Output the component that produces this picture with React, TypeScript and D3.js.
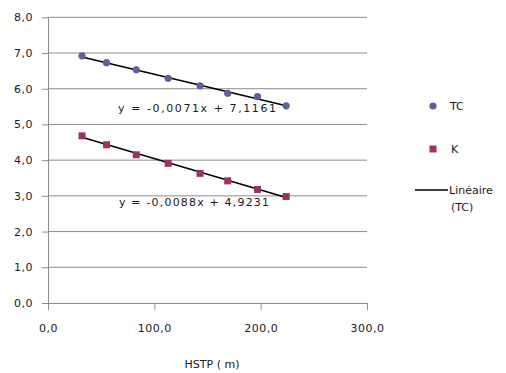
import { useEffect, useRef } from 'react';
import * as d3 from 'd3';

// HSTP (m) values
const hstp = [32, 55, 83, 113, 143, 169, 197, 224];
const tcValues = [6.92, 6.73, 6.53, 6.29, 6.08, 5.87, 5.78, 5.52];
const kValues = [4.68, 4.43, 4.15, 3.91, 3.63, 3.42, 3.18, 2.98];

const xTicks = [0, 100, 200, 300];
const yTicks = [0, 1, 2, 3, 4, 5, 6, 7, 8];

// trend lines (as printed on the chart)
const tcTrend = { slope: -0.0071, intercept: 7.1161, label: 'y = -0,0071x + 7,1161' };
const kTrend = { slope: -0.0088, intercept: 4.9231, label: 'y = -0,0088x + 4,9231' };

const legendLabels = ['TC', 'K', 'Linéaire', '(TC)'];

const TC_COLOR = '#5f5f9c';
const K_COLOR = '#993366';
const FONT = '"DejaVu Sans", Verdana, sans-serif';

const fmt = (v: number) => v.toFixed(1).replace('.', ',');

const App = () => {
  const svgRef = useRef<SVGSVGElement>(null);

  useEffect(() => {
    const width = 506;
    const height = 373;
    const svg = d3.select(svgRef.current);
    svg.selectAll('*').remove();

    svg.append('rect').attr('width', width).attr('height', height).attr('fill', '#fff');

    // ==========================================
    // SCALES
    // ==========================================
    const x = d3.scaleLinear().domain([0, 300]).range([48, 367]);
    const y = d3.scaleLinear().domain([0, 8]).range([303, 17.3]);

    // gridlines
    svg.append('g')
      .selectAll('line')
      .data(yTicks.filter((d) => d > 0))
      .enter()
      .append('line')
      .attr('x1', x(0))
      .attr('x2', x(300))
      .attr('y1', (d) => y(d))
      .attr('y2', (d) => y(d))
      .attr('stroke', '#8c8c8c')
      .attr('stroke-width', 1);

    // ==========================================
    // AXES
    // ==========================================
    const xAxis = svg.append('g')
      .attr('transform', `translate(0,${y(0)})`)
      .call(d3.axisBottom(x).tickValues(xTicks).tickFormat((d) => fmt(+d)).tickSizeInner(7).tickSizeOuter(0).tickPadding(14));
    const yAxis = svg.append('g')
      .attr('transform', `translate(${x(0)},0)`)
      .call(d3.axisLeft(y).tickValues(yTicks).tickFormat((d) => fmt(+d)).tickSizeInner(6).tickSizeOuter(0).tickPadding(9));

    [xAxis, yAxis].forEach((ax) => {
      ax.select('.domain').attr('stroke', '#8c8c8c');
      ax.selectAll('.tick line').attr('stroke', '#8c8c8c');
      ax.selectAll('.tick text')
        .attr('fill', '#1a1a1a')
        .style('font-family', FONT)
        .style('font-size', '11px')
        .style('letter-spacing', '0.5px');
    });

    svg.append('text')
      .attr('x', 212)
      .attr('y', 368)
      .attr('text-anchor', 'middle')
      .style('font-family', FONT)
      .style('font-size', '11px')
      .attr('fill', '#1a1a1a')
      .text('HSTP ( m)');

    // ==========================================
    // TREND LINES
    // ==========================================
    const x0 = d3.min(hstp) as number;
    const x1 = d3.max(hstp) as number;
    [tcTrend, kTrend].forEach((t) => {
      svg.append('line')
        .attr('x1', x(x0))
        .attr('y1', y(t.slope * x0 + t.intercept))
        .attr('x2', x(x1))
        .attr('y2', y(t.slope * x1 + t.intercept))
        .attr('stroke', '#000')
        .attr('stroke-width', 1.6);
    });

    // ==========================================
    // POINTS
    // ==========================================
    svg.append('g')
      .selectAll('circle')
      .data(hstp)
      .enter()
      .append('circle')
      .attr('cx', (d) => x(d))
      .attr('cy', (_, i) => y(tcValues[i]))
      .attr('r', 3.6)
      .attr('fill', TC_COLOR);

    svg.append('g')
      .selectAll('rect')
      .data(hstp)
      .enter()
      .append('rect')
      .attr('x', (d) => x(d) - 3.5)
      .attr('y', (_, i) => y(kValues[i]) - 3.5)
      .attr('width', 7)
      .attr('height', 7)
      .attr('fill', K_COLOR);

    // equation labels
    svg.append('text')
      .attr('x', 118)
      .attr('y', 112)
      .attr('textLength', 158)
      .attr('lengthAdjust', 'spacing')
      .style('font-family', FONT)
      .style('font-size', '11px')
      .attr('fill', '#1a1a1a')
      .text(tcTrend.label);

    svg.append('text')
      .attr('x', 119)
      .attr('y', 206)
      .attr('textLength', 150)
      .attr('lengthAdjust', 'spacing')
      .style('font-family', FONT)
      .style('font-size', '11px')
      .attr('fill', '#1a1a1a')
      .text(kTrend.label);

    // ==========================================
    // LEGEND
    // ==========================================
    const leg = svg.append('g').style('font-family', FONT).style('font-size', '11px').attr('fill', '#1a1a1a');
    leg.append('circle').attr('cx', 433).attr('cy', 106).attr('r', 3.6).attr('fill', TC_COLOR);
    leg.append('text').attr('x', 450).attr('y', 110).text(legendLabels[0]);
    leg.append('rect').attr('x', 429.5).attr('y', 145.5).attr('width', 7).attr('height', 7).attr('fill', K_COLOR);
    leg.append('text').attr('x', 451).attr('y', 153).text(legendLabels[1]);
    leg.append('line').attr('x1', 415).attr('x2', 448).attr('y1', 190).attr('y2', 190).attr('stroke', '#000').attr('stroke-width', 1.3);
    leg.append('text').attr('x', 449).attr('y', 194).text(legendLabels[2]);
    leg.append('text').attr('x', 451).attr('y', 211).text(legendLabels[3]);
  }, []);

  return (
    <svg
      ref={svgRef}
      width={506}
      height={373}
      style={{ position: 'absolute', left: 0, top: 0, display: 'block' }}
    />
  );
};

export default App;
